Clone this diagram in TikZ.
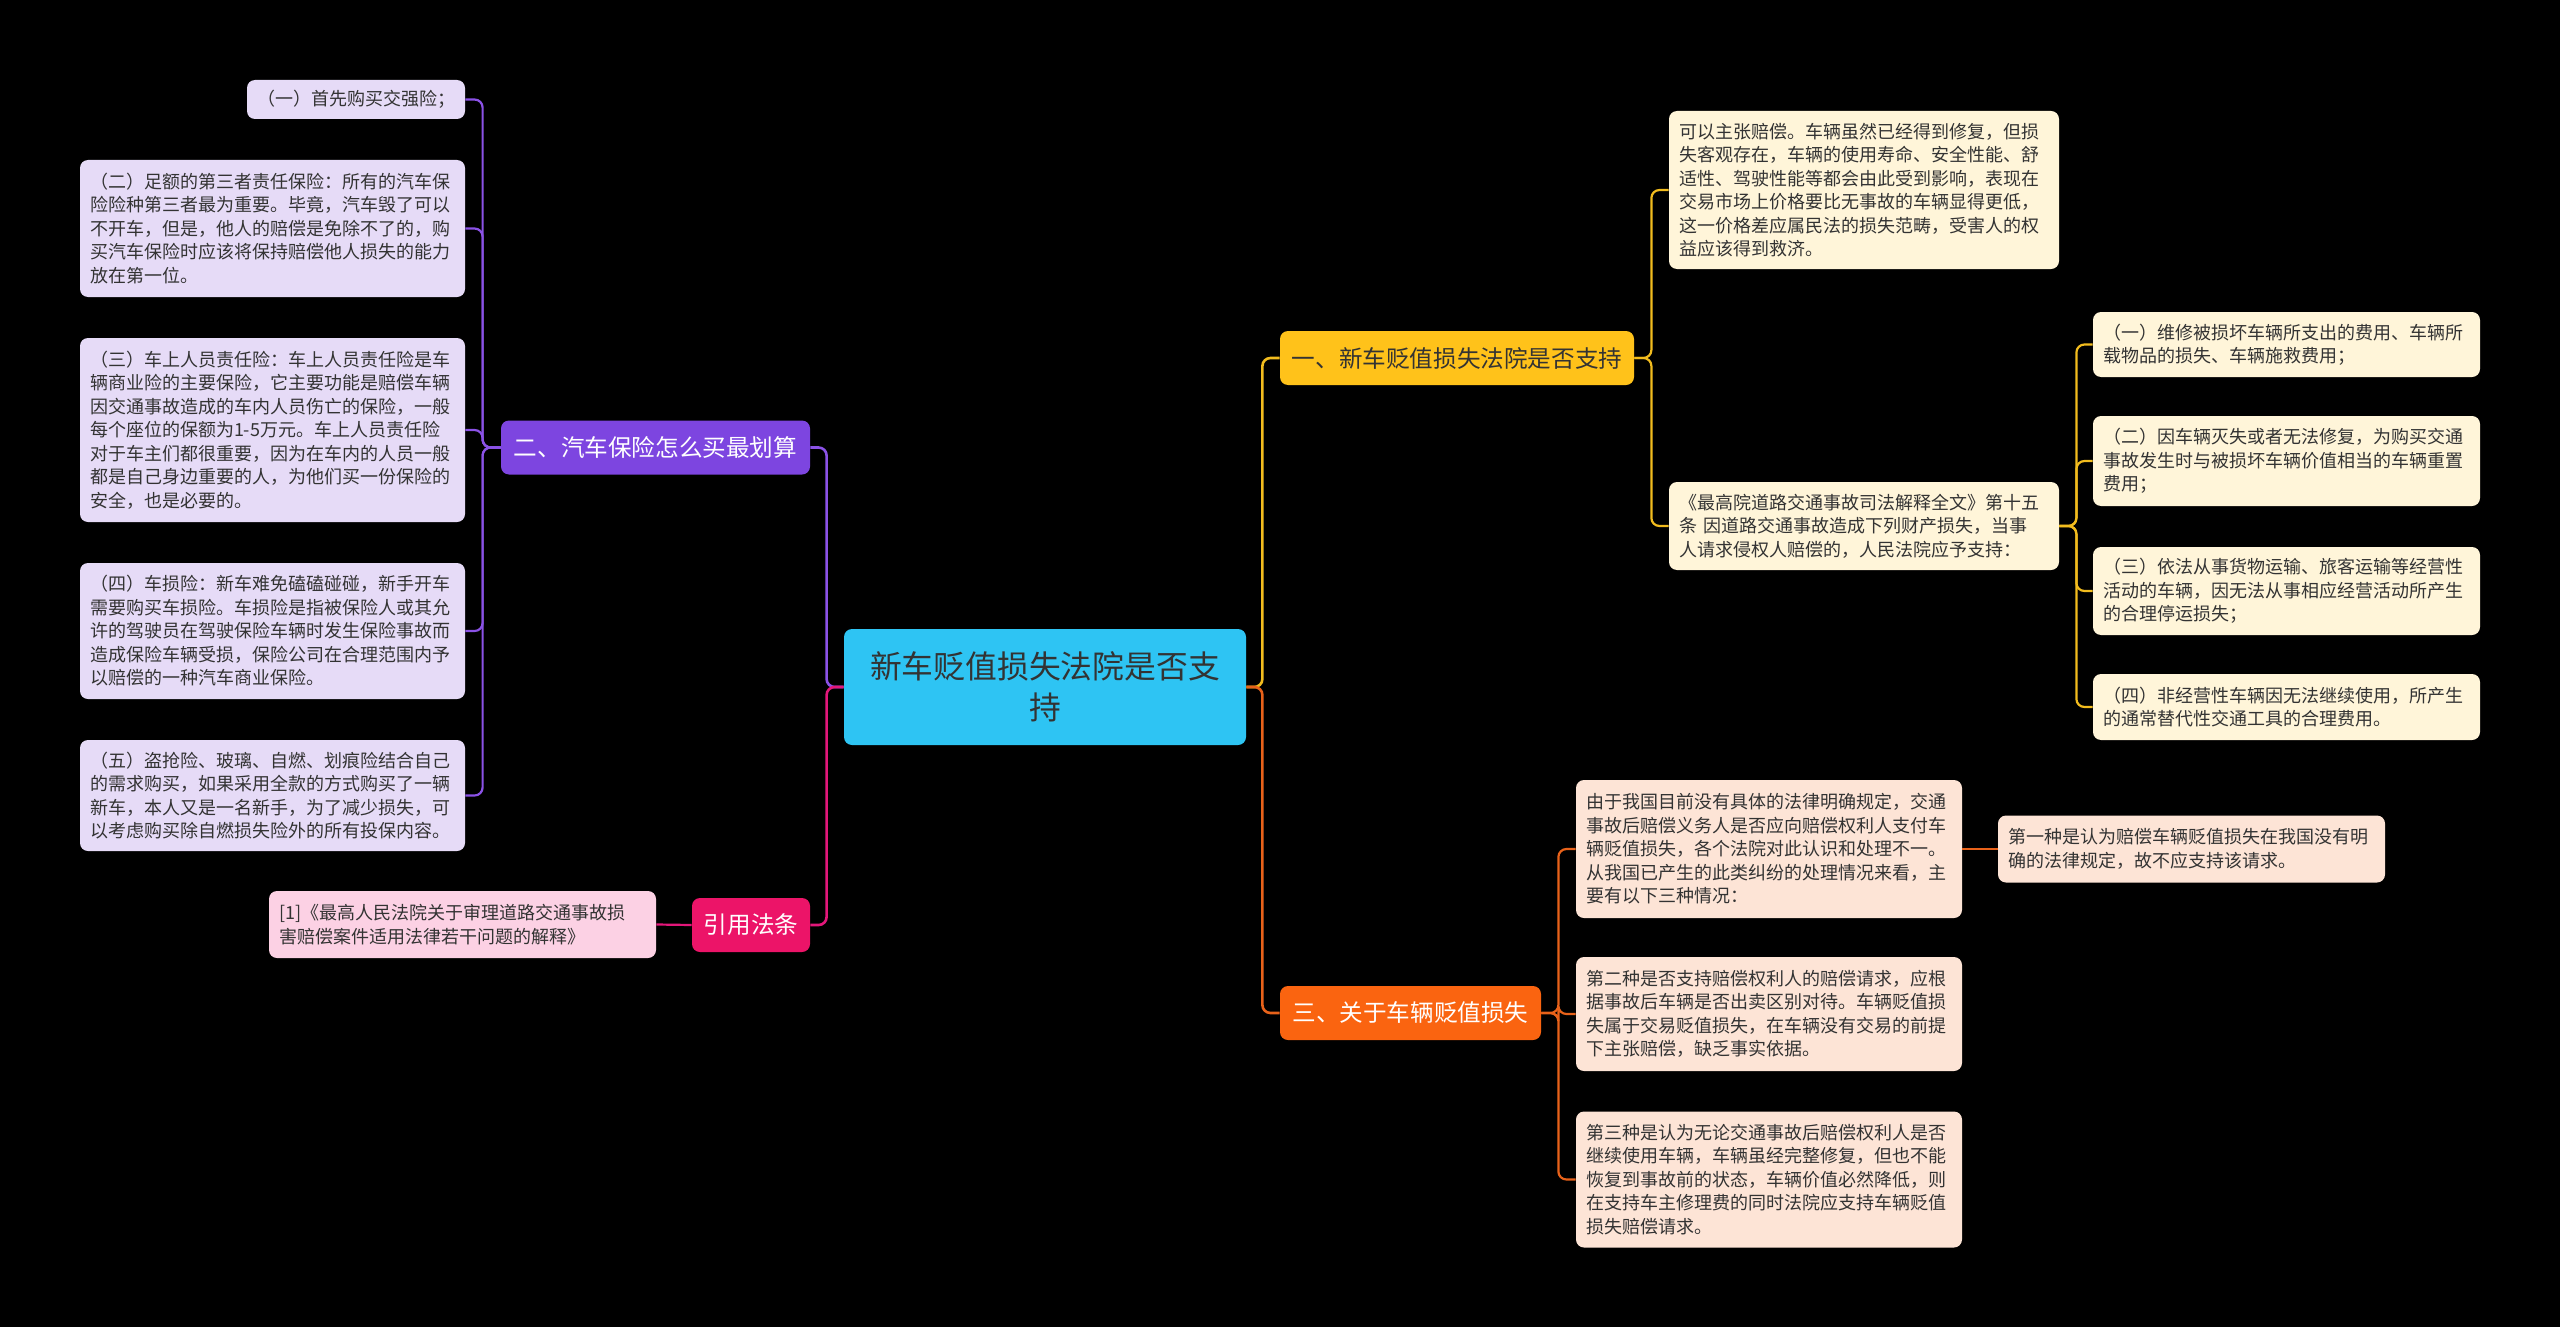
\documentclass[tikz,border=0pt]{standalone}
\usepackage{fontspec}
\setmainfont{Noto Sans CJK SC}
\usetikzlibrary{calc}
\definecolor{txt}{HTML}{333333}
\definecolor{rootfill}{HTML}{2EC4F3}
\definecolor{yfill}{HTML}{FFC21A}
\definecolor{ylight}{HTML}{FFF5D9}
\definecolor{yline}{HTML}{F2BC1E}
\definecolor{ofill}{HTML}{FA6410}
\definecolor{olight}{HTML}{FDE4D6}
\definecolor{oline}{HTML}{E8621A}
\definecolor{pfill}{HTML}{7D45E0}
\definecolor{plight}{HTML}{E6DBF7}
\definecolor{pline}{HTML}{8B52E6}
\definecolor{kfill}{HTML}{EC1468}
\definecolor{klight}{HTML}{FCD1E4}
\definecolor{kline}{HTML}{E3177A}
\begin{document}
\begin{tikzpicture}[x=0.5pt,y=-0.5pt,
  leaf/.style={rounded corners=4pt, inner xsep=5pt, inner ysep=0pt, align=left, text=txt,
    font=\fontsize{9pt}{11.75pt}\selectfont},
  branch/.style={rounded corners=4pt, inner xsep=0pt, inner ysep=0pt, minimum height=27pt,
    font=\fontsize{11.8pt}{14pt}\selectfont},
  conn/.style={rounded corners=4pt, line width=1.3pt}
]
\fill[black] (0,0) rectangle (2560,1327);
\useasboundingbox (0,0) rectangle (2560,1327);

% root
\node[fill=rootfill, rounded corners=4pt, text=txt, align=center, minimum width=201pt, minimum height=58pt,
  font=\fontsize{15.9pt}{20.5pt}\selectfont] (root) at (1045,687) {新车贬值损失法院是否支\\持};

% branch 1
\node[branch, fill=yfill, text=txt, minimum width=177pt] (ba) at (1457,358) {一、新车贬值损失法院是否支持};
\node[leaf, fill=ylight, text width=185pt, minimum height=79pt] (a1) at (1864,190)
 {可以主张赔偿。车辆虽然已经得到修复，但损\\失客观存在，车辆的使用寿命、安全性能、舒\\适性、驾驶性能等都会由此受到影响，表现在\\交易市场上价格要比无事故的车辆显得更低，\\这一价格差应属民法的损失范畴，受害人的权\\益应该得到救济。};
\node[leaf, fill=ylight, text width=185pt, minimum height=44pt] (a2) at (1864,526)
 {《最高院道路交通事故司法解释全文》第十五\\条 因道路交通事故造成下列财产损失，当事\\人请求侵权人赔偿的，人民法院应予支持：};
\node[leaf, fill=ylight, text width=183.5pt, minimum height=32.5pt] (a21) at (2286.5,344.5)
 {（一）维修被损坏车辆所支出的费用、车辆所\\载物品的损失、车辆施救费用；};
\node[leaf, fill=ylight, text width=183.5pt, minimum height=45pt] (a22) at (2286.5,461)
 {（二）因车辆灭失或者无法修复，为购买交通\\事故发生时与被损坏车辆价值相当的车辆重置\\费用；};
\node[leaf, fill=ylight, text width=183.5pt, minimum height=44pt] (a23) at (2286.5,591)
 {（三）依法从事货物运输、旅客运输等经营性\\活动的车辆，因无法从事相应经营活动所产生\\的合理停运损失；};
\node[leaf, fill=ylight, text width=183.5pt, minimum height=33pt] (a24) at (2286.5,707)
 {（四）非经营性车辆因无法继续使用，所产生\\的通常替代性交通工具的合理费用。};

% branch 3
\node[branch, fill=ofill, text=white, minimum width=130.5pt] (bc) at (1410.5,1013) {三、关于车辆贬值损失};
\node[leaf, fill=olight, text width=183pt, minimum height=69pt] (c1) at (1769,849)
 {由于我国目前没有具体的法律明确规定，交通\\事故后赔偿义务人是否应向赔偿权利人支付车\\辆贬值损失，各个法院对此认识和处理不一。\\从我国已产生的此类纠纷的处理情况来看，主\\要有以下三种情况：};
\node[leaf, fill=olight, text width=183.5pt, minimum height=33.5pt] (c11) at (2191.5,849)
 {第一种是认为赔偿车辆贬值损失在我国没有明\\确的法律规定，故不应支持该请求。};
\node[leaf, fill=olight, text width=183pt, minimum height=57pt] (c2) at (1769,1014)
 {第二种是否支持赔偿权利人的赔偿请求，应根\\据事故后车辆是否出卖区别对待。车辆贬值损\\失属于交易贬值损失，在车辆没有交易的前提\\下主张赔偿，缺乏事实依据。};
\node[leaf, fill=olight, text width=183pt, minimum height=68pt] (c3) at (1769,1179.5)
 {第三种是认为无论交通事故后赔偿权利人是否\\继续使用车辆，车辆虽经完整修复，但也不能\\恢复到事故前的状态，车辆价值必然降低，则\\在支持车主修理费的同时法院应支持车辆贬值\\损失赔偿请求。};

% branch 2
\node[branch, fill=pfill, text=white, minimum width=154.5pt] (bb) at (655.5,447.5) {二、汽车保险怎么买最划算};
\node[leaf, fill=plight, text width=99pt, minimum height=19.5pt] (p1) at (356,99.5)
 {（一）首先购买交强险；};
\node[leaf, fill=plight, text width=182.5pt, minimum height=68.5pt] (p2) at (272.5,228.5)
 {（二）足额的第三者责任保险：所有的汽车保\\险险种第三者最为重要。毕竟，汽车毁了可以\\不开车，但是，他人的赔偿是免除不了的，购\\买汽车保险时应该将保持赔偿他人损失的能力\\放在第一位。};
\node[leaf, fill=plight, text width=182.5pt, minimum height=92pt] (p3) at (272.5,430)
 {（三）车上人员责任险：车上人员责任险是车\\辆商业险的主要保险，它主要功能是赔偿车辆\\因交通事故造成的车内人员伤亡的保险，一般\\每个座位的保额为1-5万元。车上人员责任险\\对于车主们都很重要，因为在车内的人员一般\\都是自己身边重要的人，为他们买一份保险的\\安全，也是必要的。};
\node[leaf, fill=plight, text width=182.5pt, minimum height=68pt] (p4) at (272.5,631)
 {（四）车损险：新车难免磕磕碰碰，新手开车\\需要购买车损险。车损险是指被保险人或其允\\许的驾驶员在驾驶保险车辆时发生保险事故而\\造成保险车辆受损，保险公司在合理范围内予\\以赔偿的一种汽车商业保险。};
\node[leaf, fill=plight, text width=182.5pt, minimum height=55.5pt] (p5) at (272.5,795.5)
 {（五）盗抢险、玻璃、自燃、划痕险结合自己\\的需求购买，如果采用全款的方式购买了一辆\\新车，本人又是一名新手，为了减少损失，可\\以考虑购买除自燃损失险外的所有投保内容。};

% branch 4
\node[branch, fill=kfill, text=white, minimum width=59pt] (bd) at (751,925) {引用法条};
\node[leaf, fill=klight, text width=183.5pt, minimum height=33.5pt] (d1) at (462.5,924.5)
 {[1]《最高人民法院关于审理道路交通事故损\\害赔偿案件适用法律若干问题的解释》};

% connectors from root
\draw[conn, yline] (root.east) -- ++(8pt,0) |- (ba.west);
\draw[conn, oline] (root.east) -- ++(8pt,0) |- (bc.west);
\draw[conn, pline] (root.west) -- ++(-8.5pt,0) |- (bb.east);
\draw[conn, kline] (root.west) -- ++(-8.5pt,0) |- (bd.east);

% branch 1 connectors
\foreach \n in {a1,a2} \draw[conn, yline, line width=1.1pt] (ba.east) -- ++(8.5pt,0) |- (\n.west);
\foreach \n in {a21,a22,a23,a24} \draw[conn, yline, line width=1.1pt] (a2.east) -- ++(8.5pt,0) |- (\n.west);

% branch 3 connectors
\foreach \n in {c1,c2,c3} \draw[conn, oline, line width=1.1pt] (bc.east) -- ++(8.5pt,0) |- (\n.west);
\draw[conn, oline, line width=1.1pt] (c1.east) -- (c11.west);

% branch 2 connectors
\foreach \n in {p1,p2,p3,p4,p5} \draw[conn, pline, line width=1.1pt] (bb.west) -- ++(-9pt,0) |- (\n.east);

% branch 4 connector
\draw[conn, kline, line width=1.1pt] (bd.west) -- (d1.east);
\end{tikzpicture}
\end{document}
